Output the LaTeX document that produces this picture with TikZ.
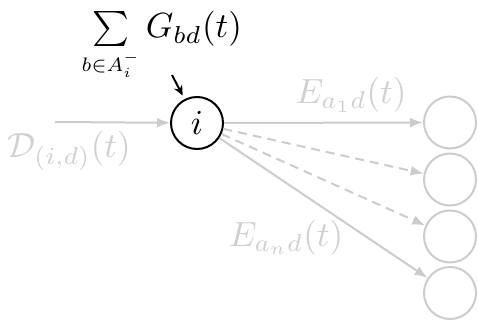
\documentclass[tikz,border=0pt]{standalone}
\usepackage{amsmath}
\usepackage{graphicx}
\usetikzlibrary{arrows.meta}
\definecolor{lg}{RGB}{204,204,204}
\definecolor{lt}{RGB}{208,208,208}
\begin{document}
\begin{tikzpicture}[x=1pt,y=-1pt,
  txt/.style={scale=3.5,inner sep=0pt},
  nodecirc/.style={circle,minimum size=52pt,inner sep=0pt,line width=2pt},
  grayarrow/.style={draw=lg,line width=2pt,-{Latex[length=13pt,width=10pt]}},
  dasharrow/.style={grayarrow,dash pattern=on 9pt off 6pt}]
\useasboundingbox (0,0) rectangle (478,320);
\node[nodecirc,draw=black,label={[txt]center:$i$}] (i) at (197,123) {};
\node[nodecirc,draw=lg] (c1) at (450,122.5) {};
\node[nodecirc,draw=lg] (c2) at (450,179.5) {};
\node[nodecirc,draw=lg] (c3) at (450,236.5) {};
\node[nodecirc,draw=lg] (c4) at (450,293) {};
\coordinate (din) at (55,122);
\draw[grayarrow] (din) -- (i);
\draw[grayarrow] (i) -- (c1);
\draw[dasharrow] (i) -- (c2);
\draw[dasharrow] (i) -- (c3);
\draw[grayarrow] (i) -- (c4);
\node[txt,text=lt,anchor=base] (dlab) at (69,158) {$\mathcal{D}_{(i,d)}(t)$};
\node[txt,text=lt,anchor=base] (e1) at (351,103.5) {$E_{a_1d}(t)$};
\node[txt,text=lt,anchor=base] (en) at (286,246) {$E_{a_nd}(t)$};
\node[txt,anchor=base west] (sum) at (81,38) {$\sum\limits_{\scalebox{0.8}{$\scriptstyle b\in A_i^-$}} G_{bd}(t)$};
\coordinate (bs) at (172,75);
\draw[line width=2pt,shorten >=4pt,-{Stealth[length=10pt,width=9pt]}] (bs) -- (i);
\end{tikzpicture}
\end{document}
